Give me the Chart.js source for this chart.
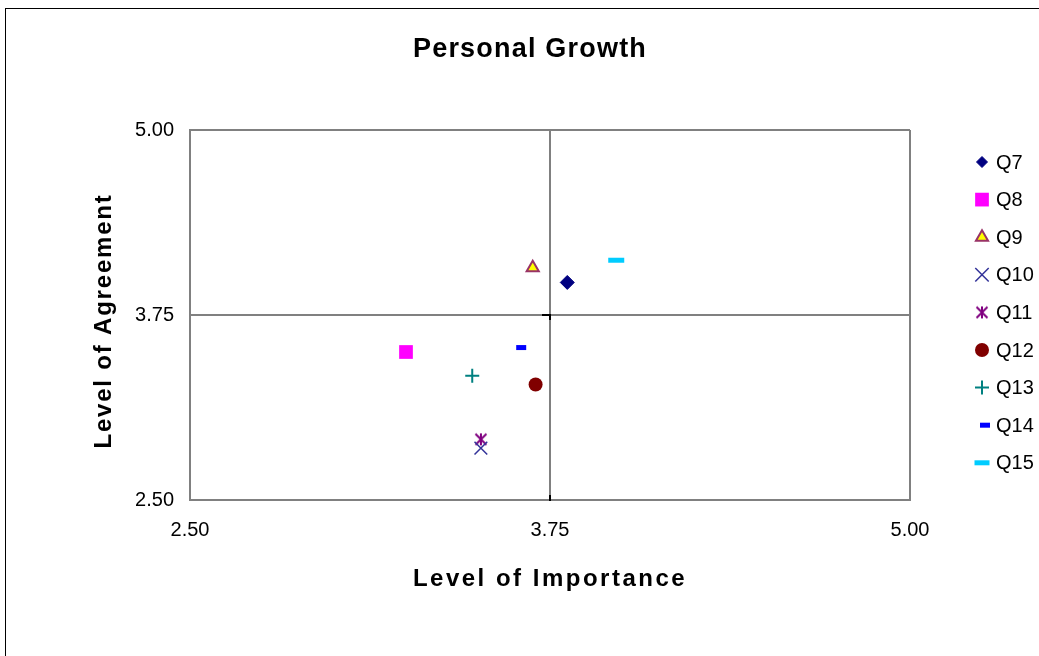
<!DOCTYPE html>
<html>
<head>
<meta charset="utf-8">
<title>Personal Growth</title>
<script src="https://cdn.jsdelivr.net/npm/chart.js@4/dist/chart.umd.min.js"></script>
<style>
  html, body { margin: 0; padding: 0; background: #ffffff; overflow: hidden; }
  canvas { display: block; }
</style>
</head>
<body>
<canvas id="chart" width="1039" height="656"></canvas>
<script>
// Survey items and their mean scores
const questions = ['Q7', 'Q8', 'Q9', 'Q10', 'Q11', 'Q12', 'Q13', 'Q14', 'Q15'];
const importance = [3.81, 3.25, 3.69, 3.51, 3.51, 3.70, 3.48, 3.65, 3.98];
const agreement  = [3.97, 3.50, 4.07, 2.85, 2.91, 3.28, 3.34, 3.53, 4.12];
const tickValues = [2.50, 3.75, 5.00];
const midpoint = 3.75;

const FONT = '"Liberation Sans", Arial, Helvetica, sans-serif';
const GRID = '#808080';

// Asterisk marker: an X crossed by a vertical stroke
function makeAsterisk(color, size, lw) {
  const c = document.createElement('canvas');
  c.width = size; c.height = size;
  const g = c.getContext('2d');
  g.strokeStyle = color; g.lineWidth = lw;
  const m = 1.5, s = size - 1.5;
  g.beginPath();
  g.moveTo(m, m); g.lineTo(s, s);
  g.moveTo(s, m); g.lineTo(m, s);
  g.moveTo(size / 2, m - 0.5); g.lineTo(size / 2, s + 0.5);
  g.stroke();
  return c;
}

const asterisk = makeAsterisk('#800080', 14, 2);

// Marker look for each question (plot radius / legend radius)
const markers = [
  { style: 'rectRot',  fill: '#000080', line: '#000080', width: 1,   r: 7,   lr: 5.5 },
  { style: 'rect',     fill: '#FF00FF', line: '#FF00FF', width: 0,   r: 9.7, lr: 9.7 },
  { style: 'triangle', fill: '#FFFF00', line: '#993366', width: 2,   r: 7,   lr: 7 },
  { style: 'crossRot', fill: '#333399', line: '#333399', width: 1.5, r: 9,   lr: 9.5 },
  { style: asterisk,   fill: '#800080', line: '#800080', width: 1.5, r: 7,   lr: 7 },
  { style: 'circle',   fill: '#800000', line: '#800000', width: 0,   r: 7,   lr: 7 },
  { style: 'cross',    fill: '#008080', line: '#008080', width: 2,   r: 7,   lr: 7 },
  { style: 'line',     fill: '#0000FF', line: '#0000FF', width: 5,   r: 5,   lr: 5 },
  { style: 'line',     fill: '#00CCFF', line: '#00CCFF', width: 5,   r: 8,   lr: 7.5 }
];

const datasets = questions.map((q, i) => ({
  label: q,
  data: [{ x: importance[i], y: agreement[i] }],
  pointStyle: markers[i].style,
  pointRadius: markers[i].r,
  pointBackgroundColor: markers[i].fill,
  pointBorderColor: markers[i].line,
  pointBorderWidth: markers[i].width,
  showLine: false
}));

// Outer frame, axis titles, chart title, crossing tick marks and legend
const decorations = {
  id: 'decorations',
  beforeDraw(chart) {
    const ctx = chart.ctx;
    ctx.save();
    ctx.strokeStyle = '#000000';
    ctx.lineWidth = 1;
    ctx.strokeRect(5.5, 8.5, 1200, 800);
    ctx.restore();
  },
  afterDraw(chart) {
    const ctx = chart.ctx;
    const xs = chart.scales.x, ys = chart.scales.y;
    ctx.save();

    // small black tick marks where the midpoint axes cross
    const cx = Math.round(xs.getPixelForValue(midpoint));
    const cy = Math.round(ys.getPixelForValue(midpoint));
    ctx.fillStyle = '#000000';
    ctx.fillRect(cx - 8, cy - 1, 9, 2);
    ctx.fillRect(cx - 1, cy - 1, 2, 6);
    ctx.fillRect(cx - 1, ys.bottom - 5, 2, 6);

    ctx.fillStyle = '#000000';
    ctx.textBaseline = 'middle';
    ctx.textAlign = 'center';

    // chart title
    ctx.font = 'bold 27px ' + FONT;
    ctx.letterSpacing = '1.2px';
    ctx.fillText('Personal Growth', 530, 50);

    // x axis title
    ctx.font = 'bold 24px ' + FONT;
    ctx.letterSpacing = '2.5px';
    ctx.fillText('Level of Importance', 550, 579);

    // y axis title
    ctx.save();
    ctx.translate(104, 321);
    ctx.rotate(-Math.PI / 2);
    ctx.letterSpacing = '1.8px';
    ctx.fillText('Level of Agreement', 0, 0);
    ctx.restore();

    // legend
    ctx.letterSpacing = '0px';
    ctx.textAlign = 'left';
    ctx.font = '20px ' + FONT;
    const drawPoint = Chart.helpers && Chart.helpers.drawPoint;
    questions.forEach((q, i) => {
      const y = 162 + i * 37.6;
      const m = markers[i];
      const mx = m.style === 'line' && m.lr < 6 ? 985 : 982;
      ctx.save();
      ctx.fillStyle = m.fill;
      ctx.strokeStyle = m.line;
      ctx.lineWidth = m.width;
      if (drawPoint) {
        drawPoint(ctx, { pointStyle: m.style, radius: m.lr, rotation: 0, borderWidth: m.width }, mx, y);
      }
      ctx.restore();
      ctx.fillStyle = '#000000';
      ctx.fillText(q, 996, y + 1);
    });

    ctx.restore();
  }
};

const axisCommon = {
  type: 'linear',
  min: tickValues[0],
  max: tickValues[tickValues.length - 1],
  afterBuildTicks(scale) {
    scale.ticks = tickValues.map(v => ({ value: v }));
  },
  grid: {
    color: GRID,
    lineWidth: 2,
    drawTicks: false,
    drawOnChartArea: true
  },
  border: { display: true, color: GRID, width: 2 },
  ticks: {
    color: '#000000',
    font: { family: FONT, size: 20 },
    callback: v => Number(v).toFixed(2)
  }
};

new Chart(document.getElementById('chart'), {
  type: 'scatter',
  data: { datasets },
  options: {
    responsive: false,
    animation: false,
    events: [],
    layout: { padding: { left: 0, top: 130, right: 129, bottom: 0 } },
    plugins: {
      legend: { display: false },
      title: { display: false },
      tooltip: { enabled: false }
    },
    scales: {
      x: Object.assign({}, axisCommon, {
        position: 'bottom',
        ticks: Object.assign({}, axisCommon.ticks, { padding: 18, maxRotation: 0 }),
        afterFit(scale) { scale.height = 156; }
      }),
      y: Object.assign({}, axisCommon, {
        position: 'left',
        ticks: Object.assign({}, axisCommon.ticks, { padding: 16 }),
        afterFit(scale) { scale.width = 190; }
      })
    }
  },
  plugins: [decorations]
});
</script>
</body>
</html>
